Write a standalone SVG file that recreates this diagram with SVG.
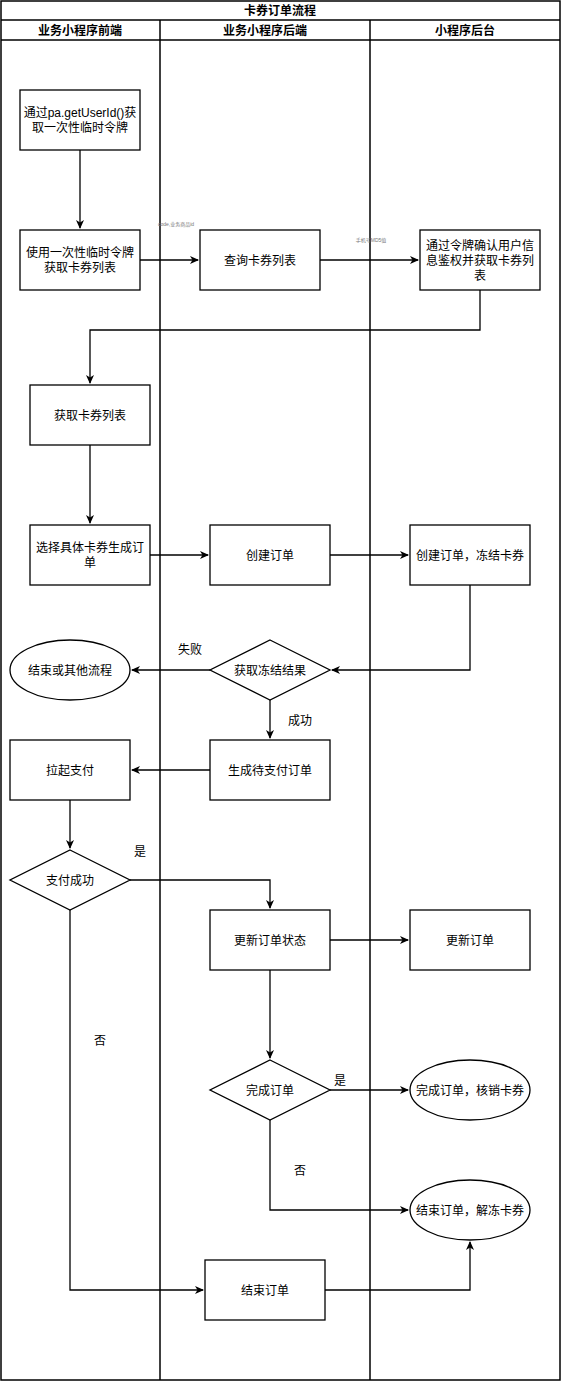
<svg xmlns="http://www.w3.org/2000/svg" width="561" height="1381" viewBox="0 0 561 1381">
<style>
.s{fill:#fff;stroke:#000;stroke-width:1.3}
.t{font-family:"Liberation Sans","Noto Sans CJK SC",sans-serif;font-size:12px;fill:#000;text-anchor:middle}
.h{font-weight:bold}
.e{fill:none;stroke:#000;stroke-width:1.3}
.lb{font-family:"Liberation Sans","Noto Sans CJK SC",sans-serif;font-size:12px;fill:#000;text-anchor:middle}
.sm{font-family:"Liberation Sans","Noto Sans CJK SC",sans-serif;font-size:5px;fill:#777;text-anchor:middle}
</style>
<defs>
<marker id="a" markerWidth="10" markerHeight="10" refX="8" refY="5" orient="auto" markerUnits="userSpaceOnUse">
<path d="M0,1 L9,5 L0,9 L2.5,5 Z" fill="#000"/>
</marker>
</defs>
<rect width="561" height="1381" fill="#fff"/>
<g id="pool">
<rect x="1" y="1" width="559" height="1379" fill="none" stroke="#000" stroke-width="1.5"/>
<line x1="1" y1="20" x2="560" y2="20" stroke="#000" stroke-width="1.5"/>
<line x1="1" y1="40" x2="560" y2="40" stroke="#000" stroke-width="1.5"/>
<line x1="160" y1="20" x2="160" y2="1380" stroke="#000" stroke-width="1.5"/>
<line x1="370" y1="20" x2="370" y2="1380" stroke="#000" stroke-width="1.5"/>
<text class="t h" x="280" y="15">卡券订单流程</text>
<text class="t h" x="80" y="35">业务小程序前端</text>
<text class="t h" x="265" y="35">业务小程序后端</text>
<text class="t h" x="465" y="35">小程序后台</text>
</g>
<g id="edges">
<path class="e" d="M80,150 L80,228" marker-end="url(#a)"/>
<path class="e" d="M140,260 L198,260" marker-end="url(#a)"/>
<text class="sm" x="176" y="226">code,业务商品id</text>
<path class="e" d="M320,260 L418,260" marker-end="url(#a)"/>
<text class="sm" x="371" y="242">手机号MD5值</text>
<path class="e" d="M480,290 L480,330 L90,330 L90,383" marker-end="url(#a)"/>
<path class="e" d="M90,445 L90,523" marker-end="url(#a)"/>
<path class="e" d="M150,555 L208,555" marker-end="url(#a)"/>
<path class="e" d="M330,555 L408,555" marker-end="url(#a)"/>
<path class="e" d="M470,585 L470,670 L332,670" marker-end="url(#a)"/>
<path class="e" d="M210,670 L132,670" marker-end="url(#a)"/>
<text class="lb" x="190" y="654">失败</text>
<path class="e" d="M270,700 L270,738" marker-end="url(#a)"/>
<text class="lb" x="300" y="725">成功</text>
<path class="e" d="M210,770 L132,770" marker-end="url(#a)"/>
<path class="e" d="M70,800 L70,848" marker-end="url(#a)"/>
<path class="e" d="M130,880 L270,880 L270,908" marker-end="url(#a)"/>
<text class="lb" x="140" y="856">是</text>
<path class="e" d="M330,940 L408,940" marker-end="url(#a)"/>
<path class="e" d="M270,970 L270,1058" marker-end="url(#a)"/>
<path class="e" d="M330,1090 L408,1090" marker-end="url(#a)"/>
<text class="lb" x="340" y="1085">是</text>
<path class="e" d="M270,1120 L270,1210 L408,1210" marker-end="url(#a)"/>
<text class="lb" x="300" y="1175">否</text>
<path class="e" d="M70,910 L70,1290 L203,1290" marker-end="url(#a)"/>
<text class="lb" x="100" y="1045">否</text>
<path class="e" d="M325,1290 L470,1290 L470,1242" marker-end="url(#a)"/>
</g>
<g id="n1"><rect class="s" x="20" y="90" width="120" height="60"/><text class="t" x="80" y="117">通过pa.getUserId()获</text><text class="t" x="80" y="132">取一次性临时令牌</text></g>
<g id="n2"><rect class="s" x="20" y="230" width="120" height="60"/><text class="t" x="80" y="257">使用一次性临时令牌</text><text class="t" x="80" y="272">获取卡券列表</text></g>
<g id="n3"><rect class="s" x="200" y="230" width="120" height="60"/><text class="t" x="260" y="265">查询卡券列表</text></g>
<g id="n4"><rect class="s" x="420" y="230" width="120" height="60"/><text class="t" x="480" y="250">通过令牌确认用户信</text><text class="t" x="480" y="265">息鉴权并获取卡券列</text><text class="t" x="480" y="280">表</text></g>
<g id="n5"><rect class="s" x="30" y="385" width="120" height="60"/><text class="t" x="90" y="420">获取卡券列表</text></g>
<g id="n6"><rect class="s" x="30" y="525" width="120" height="60"/><text class="t" x="90" y="552">选择具体卡券生成订</text><text class="t" x="90" y="567">单</text></g>
<g id="n7"><rect class="s" x="210" y="525" width="120" height="60"/><text class="t" x="270" y="560">创建订单</text></g>
<g id="n8"><rect class="s" x="410" y="525" width="120" height="60"/><text class="t" x="470" y="560">创建订单，冻结卡券</text></g>
<g id="n9"><path class="s" d="M270,640 L330,670 L270,700 L210,670 Z"/><text class="t" x="270" y="675">获取冻结结果</text></g>
<g id="n10"><ellipse class="s" cx="70" cy="670" rx="60" ry="30"/><text class="t" x="70" y="675">结束或其他流程</text></g>
<g id="n11"><rect class="s" x="210" y="740" width="120" height="60"/><text class="t" x="270" y="775">生成待支付订单</text></g>
<g id="n12"><rect class="s" x="10" y="740" width="120" height="60"/><text class="t" x="70" y="775">拉起支付</text></g>
<g id="n13"><path class="s" d="M70,850 L130,880 L70,910 L10,880 Z"/><text class="t" x="70" y="885">支付成功</text></g>
<g id="n14"><rect class="s" x="210" y="910" width="120" height="60"/><text class="t" x="270" y="945">更新订单状态</text></g>
<g id="n15"><rect class="s" x="410" y="910" width="120" height="60"/><text class="t" x="470" y="945">更新订单</text></g>
<g id="n16"><path class="s" d="M270,1060 L330,1090 L270,1120 L210,1090 Z"/><text class="t" x="270" y="1095">完成订单</text></g>
<g id="n17"><ellipse class="s" cx="470" cy="1090" rx="60" ry="30"/><text class="t" x="470" y="1095">完成订单，核销卡券</text></g>
<g id="n18"><ellipse class="s" cx="470" cy="1210" rx="60" ry="30"/><text class="t" x="470" y="1215">结束订单，解冻卡券</text></g>
<g id="n19"><rect class="s" x="205" y="1260" width="120" height="60"/><text class="t" x="265" y="1295">结束订单</text></g>
</svg>
